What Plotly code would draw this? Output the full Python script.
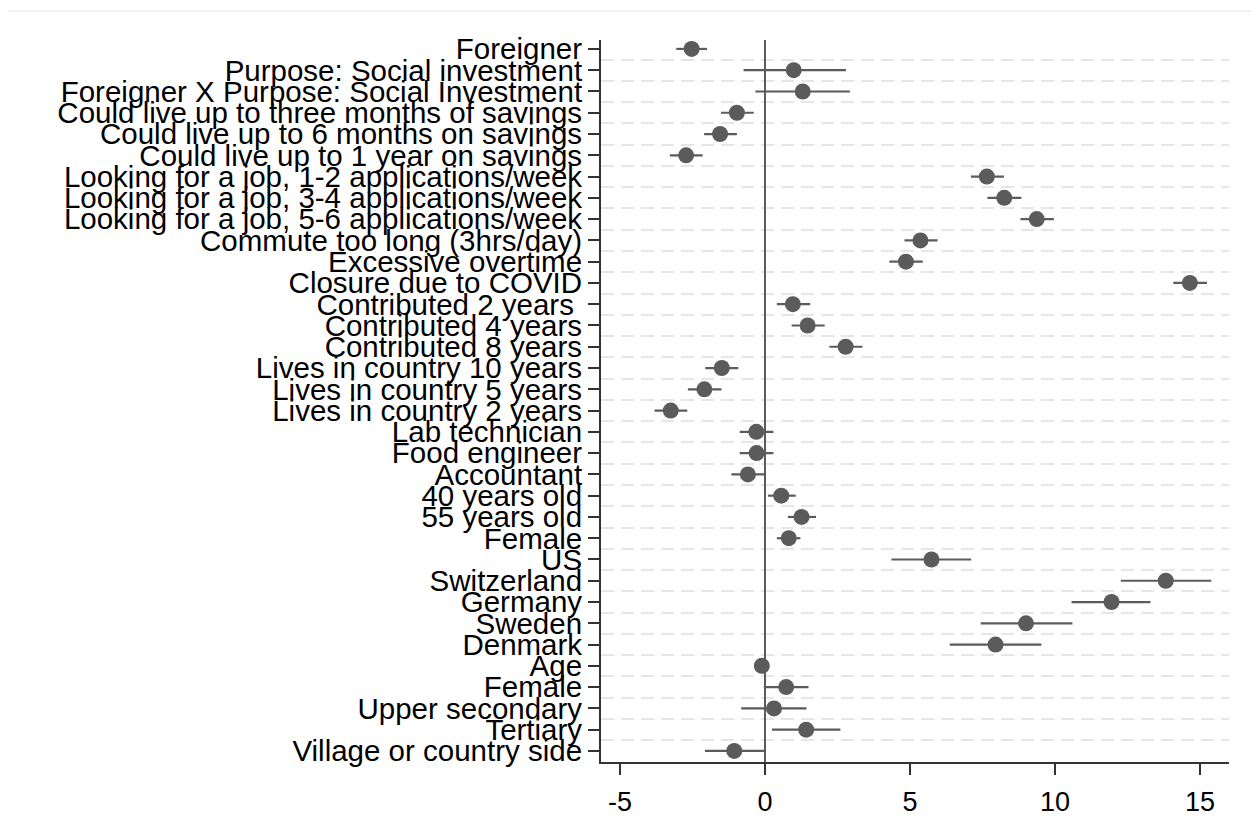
import plotly.graph_objects as go

labels = [
    "Foreigner",
    "Purpose: Social investment",
    "Foreigner X Purpose: Social Investment",
    "Could live up to three months of savings",
    "Could live up to 6 months on savings",
    "Could live up to 1 year on savings",
    "Looking for a job, 1-2 applications/week",
    "Looking for a job, 3-4 applications/week",
    "Looking for a job, 5-6 applications/week",
    "Commute too long (3hrs/day)",
    "Excessive overtime",
    "Closure due to COVID",
    "Contributed 2 years ",
    "Contributed 4 years",
    "Contributed 8 years",
    "Lives in country 10 years",
    "Lives in country 5 years",
    "Lives in country 2 years",
    "Lab technician",
    "Food engineer",
    "Accountant",
    "40 years old",
    "55 years old",
    "Female",
    "US",
    "Switzerland",
    "Germany",
    "Sweden",
    "Denmark",
    "Age",
    "Female",
    "Upper secondary",
    "Tertiary",
    "Village or country side",
]

coef = [-2.53, 0.99, 1.30, -0.97, -1.55, -2.72, 7.65, 8.25, 9.37, 5.36, 4.86, 14.65,
        0.96, 1.47, 2.78, -1.49, -2.09, -3.25, -0.30, -0.29, -0.59, 0.56, 1.26, 0.82,
        5.74, 13.82, 11.95, 9.00, 7.95, -0.11, 0.73, 0.31, 1.42, -1.06]

ci_low = [-3.06, -0.74, -0.33, -1.52, -2.10, -3.28, 7.10, 7.67, 8.81, 4.81, 4.29, 14.08,
          0.41, 0.92, 2.22, -2.06, -2.66, -3.81, -0.87, -0.87, -1.16, 0.10, 0.79, 0.41,
          4.36, 12.27, 10.57, 7.44, 6.37, -0.16, -0.04, -0.82, 0.24, -2.07]

ci_high = [-2.00, 2.79, 2.93, -0.39, -0.97, -2.15, 8.24, 8.84, 9.96, 5.95, 5.44, 15.24,
           1.56, 2.06, 3.36, -0.92, -1.50, -2.68, 0.29, 0.29, 0.00, 1.06, 1.76, 1.22,
           7.11, 15.39, 13.29, 10.60, 9.53, -0.06, 1.50, 1.43, 2.60, 0.00]

x_ticks = [-5, 0, 5, 10, 15]

pos = list(range(1, len(labels) + 1))
mids = [p + 0.5 for p in pos[:-1]]
err_plus = [h - c for h, c in zip(ci_high, coef)]
err_minus = [c - l for c, l in zip(coef, ci_low)]

GRAY = "#5b5b5b"
AXIS = "#333333"

# page has an 8px body margin: figure drawn 8px right/down
W, H = 1251, 829
L, T, R, B = 593, 32, 30, 75
PW = W - L - R
PH = H - T - B

fig = go.Figure()
fig.add_trace(go.Scatter(
    x=coef, y=pos, mode="markers",
    marker=dict(size=16, color=GRAY, line=dict(width=0)),
    error_x=dict(type="data", symmetric=False, array=err_plus, arrayminus=err_minus,
                 color=GRAY, thickness=2.2, width=0),
    showlegend=False, hoverinfo="x+y",
))

fig.update_layout(
    width=W, height=H,
    margin=dict(l=L, r=R, t=T, b=B),
    paper_bgcolor="white", plot_bgcolor="white",
    font=dict(family="Liberation Sans, Arial, sans-serif", color="black", size=29),
    shapes=[dict(type="rect", xref="paper", yref="paper",
                 x0=(-2 - L) / PW, x1=(1249 - L) / PW,
                 y0=-0.3, y1=(H - B - 3) / PH,
                 line=dict(color="#ebebeb", width=1.5), fillcolor="rgba(0,0,0,0)",
                 layer="below")],
)

fig.update_xaxes(
    range=[-5.655, 16.0], tickvals=x_ticks, ticktext=[str(t) for t in x_ticks],
    showgrid=False, zeroline=True, zerolinecolor=GRAY, zerolinewidth=2,
    showline=True, linecolor=AXIS, linewidth=2,
    ticks="outside", ticklen=11, tickwidth=2, tickcolor=AXIS,
    tickfont=dict(size=27), ticklabelstandoff=4,
)

fig.update_yaxes(
    range=[34.52, 0.58], tickvals=pos, ticktext=labels,
    showgrid=False, zeroline=False,
    showline=True, linecolor=AXIS, linewidth=2,
    ticks="outside", ticklen=11, tickwidth=2, tickcolor=AXIS,
    tickfont=dict(size=29.5), ticklabelstandoff=0,
    minor=dict(tickvals=mids, showgrid=True, gridcolor="#e6e6e6", gridwidth=2,
               griddash="13px,7px", ticks=""),
)

fig.write_html("out.html")
